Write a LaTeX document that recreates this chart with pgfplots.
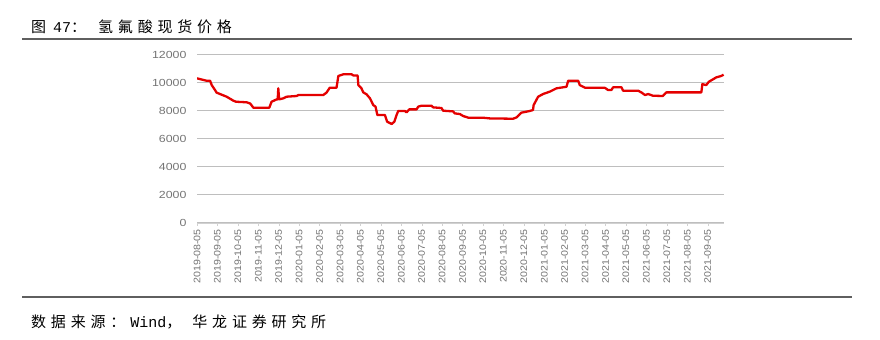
\documentclass[border=0pt]{standalone}
\usepackage{pgfplots}
\pgfplotsset{compat=1.18}
\usepackage{fontspec}
\newfontfamily\cjk[LetterSpace=32]{Noto Sans CJK SC}
\newfontfamily\latmono{Liberation Mono}
\newfontfamily\tickfont[FakeStretch=1.12]{Liberation Sans}
\newfontfamily\ytickfont[FakeStretch=1.2]{Liberation Sans}
\definecolor{linered}{RGB}{228,0,0}
\definecolor{gridgray}{RGB}{190,190,190}
\definecolor{tickgray}{RGB}{115,115,115}
\definecolor{rulegray}{RGB}{95,95,95}
\begin{document}
\begin{tikzpicture}[x=1bp,y=1bp]
\path (0,0) rectangle (880,339);
\node[anchor=west,inner sep=0pt] at (31,312) {\fontsize{15bp}{16bp}\selectfont\cjk 图\hspace{7bp}{\latmono 47}：\hspace{12bp}氢氟酸现货价格};
\draw[rulegray,line width=1.3bp] (22,300) -- (852,300);
\draw[rulegray,line width=1.3bp] (22,42) -- (852,42);
\node[anchor=west,inner sep=0pt] at (31,17) {\fontsize{15bp}{16bp}\selectfont\cjk 数据来源：\hspace{5bp}{\latmono Wind}，\hspace{11bp}华龙证券研究所};
\begin{axis}[
  at={(197bp,116.3bp)}, anchor=south west,
  scale only axis, width=527bp, height=168bp,
  xmin=0, xmax=25.8, ymin=0, ymax=12000,
  axis x line*=bottom, axis y line*=left,
  x axis line style={draw=gridgray!70, -},
  y axis line style={draw=none},
  ytick={0,2000,4000,6000,8000,10000,12000},
  scaled y ticks=false,
  ytick style={draw=none},
  ymajorgrids, grid style={gridgray, line width=0.9bp},
  xtick={0,1,...,25},
  xticklabels={2019-08-05,2019-09-05,2019-10-05,2019-11-05,2019-12-05,2020-01-05,2020-02-05,2020-03-05,2020-04-05,2020-05-05,2020-06-05,2020-07-05,2020-08-05,2020-09-05,2020-10-05,2020-11-05,2020-12-05,2021-01-05,2021-02-05,2021-03-05,2021-04-05,2021-05-05,2021-06-05,2021-07-05,2021-08-05,2021-09-05},
  x tick label style={rotate=90, anchor=east, font=\fontsize{9.5bp}{10bp}\tickfont, text=tickgray},
  xtick style={draw=gridgray!70},
  major tick length=3bp,
  tick align=outside,
  y tick label style={font=\fontsize{10.3bp}{11bp}\ytickfont, text=tickgray, xshift=-4bp},
  yticklabel={\pgfmathprintnumber[fixed,1000 sep={}]{\tick}},
  /pgf/number format/assume math mode=true,
]
\addplot[linered, line width=2.3bp, line join=round] coordinates {
(0,10310) (0.47,10140) (0.64,10140) (0.72,9830) (0.88,9480) (0.96,9290)
(1.45,9000) (1.78,8715) (1.91,8640) (2.43,8600) (2.6,8520) (2.76,8215)
(3.54,8215) (3.65,8640) (3.9,8810) (3.95,8810) (3.98,9600) (4.02,8810)
(4.22,8880) (4.39,9000) (4.88,9050) (4.96,9120) (6.18,9120) (6.34,9290)
(6.5,9640) (6.83,9640) (6.92,10480) (7.16,10600) (7.57,10600) (7.65,10520)
(7.86,10520) (7.9,9830) (8.05,9600) (8.14,9310) (8.3,9170) (8.47,8880)
(8.63,8400) (8.74,8290) (8.83,7690) (9.2,7690) (9.31,7215) (9.53,7050)
(9.66,7215) (9.77,7690) (9.85,7980) (10.18,7980) (10.26,7880) (10.39,8095)
(10.75,8095) (10.83,8290) (11.0,8360) (11.48,8360) (11.56,8240) (11.97,8190)
(12.05,8000) (12.54,7950) (12.62,7810) (12.87,7760) (13.03,7620) (13.28,7500)
(14.0,7500) (14.33,7450) (15.3,7430) (15.48,7430) (15.64,7520) (15.88,7860)
(16.29,7980) (16.45,8050) (16.48,8400) (16.7,9000) (16.94,9190) (17.27,9360)
(17.6,9600) (18.09,9710) (18.17,10140) (18.66,10140) (18.74,9830) (19.0,9640)
(19.96,9640) (20.12,9480) (20.29,9480) (20.37,9670) (20.78,9670) (20.86,9430)
(21.6,9430) (21.77,9290) (21.93,9120) (22.09,9190) (22.32,9070) (22.8,9050)
(22.98,9310) (24.69,9310) (24.74,9900) (24.93,9830) (25.06,10070) (25.26,10240)
(25.42,10380) (25.66,10480) (25.78,10570)
};
\end{axis}
\end{tikzpicture}
\end{document}
